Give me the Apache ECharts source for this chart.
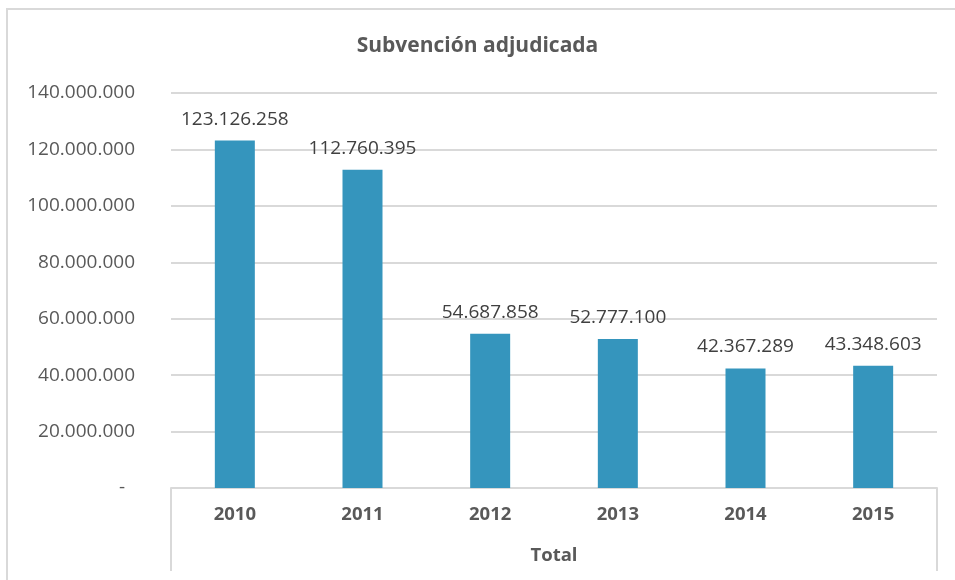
<!DOCTYPE html>
<html>
<head>
<meta charset="utf-8">
<title>Subvención adjudicada</title>
<script src="https://cdn.jsdelivr.net/npm/echarts@6/dist/echarts.min.js"></script>
<style>
  html, body { margin: 0; padding: 0; background: #fff; }
  #frame {
    position: absolute; left: 6px; top: 8px; width: 1000px; height: 1000px;
    border-left: 2px solid #d9d9d9; border-top: 2px solid #d9d9d9;
  }
  #chart { position: absolute; left: 0; top: 0; width: 955px; height: 580px; }
</style>
</head>
<body>
<div id="frame"></div>
<div id="chart"></div>
<script>
;(function () {
  'use strict'

  var years = ['2010', '2011', '2012', '2013', '2014', '2015']
  var amounts = [123126258, 112760395, 54687858, 52777100, 42367289, 43348603]
  var groupLabel = ['Total']
  var titleText = 'Subvención adjudicada'

  var FONT = '"Open Sans", sans-serif'
  var GRID_LINE = '#d9d9d9'

  function dots(v) {
    return String(Math.round(v)).replace(/\B(?=(\d{3})+(?!\d))/g, '.')
  }

  var chart = echarts.init(document.getElementById('chart'))

  chart.setOption({
    animation: false,
    textStyle: { fontFamily: FONT },
    title: {
      text: titleText,
      left: 'center',
      top: 31,
      textStyle: { fontFamily: FONT, fontSize: 21, fontWeight: 'bold', color: '#595959' }
    },
    grid: { left: 171, right: 18, top: 93, bottom: 92, containLabel: false },
    xAxis: [
      {
        type: 'category',
        data: years,
        axisLine: { lineStyle: { color: GRID_LINE, width: 2 } },
        axisTick: { show: false },
        axisLabel: { margin: 17, fontSize: 18.5, fontWeight: 'bold', color: '#595959', fontFamily: FONT }
      },
      {
        type: 'category',
        data: groupLabel,
        position: 'bottom',
        axisLine: { show: false },
        axisTick: { show: true, length: 83, lineStyle: { color: GRID_LINE, width: 2 } },
        axisLabel: { margin: 58, fontSize: 18.5, fontWeight: 'bold', color: '#595959', fontFamily: FONT }
      }
    ],
    yAxis: {
      type: 'value',
      min: 0,
      max: 140000000,
      interval: 20000000,
      axisLine: { show: false },
      axisTick: { show: false },
      splitLine: { lineStyle: { color: GRID_LINE, width: 2 } },
      axisLabel: {
        margin: 36,
        fontSize: 19,
        color: '#595959',
        fontFamily: FONT,
        formatter: function (v) { return v === 0 ? '{z|-}' : dots(v) },
        rich: { z: { fontSize: 19, color: '#595959', padding: [0, 10, 0, 0] } }
      }
    },
    series: [
      {
        type: 'bar',
        data: amounts,
        xAxisIndex: 0,
        barWidth: 40,
        itemStyle: { color: '#3595bd' },
        label: {
          show: true,
          position: 'top',
          distance: 12,
          fontSize: 19,
          color: '#404040',
          fontFamily: FONT,
          formatter: function (p) { return dots(p.value) }
        }
      }
    ]
  })
})()
</script>
</body>
</html>
